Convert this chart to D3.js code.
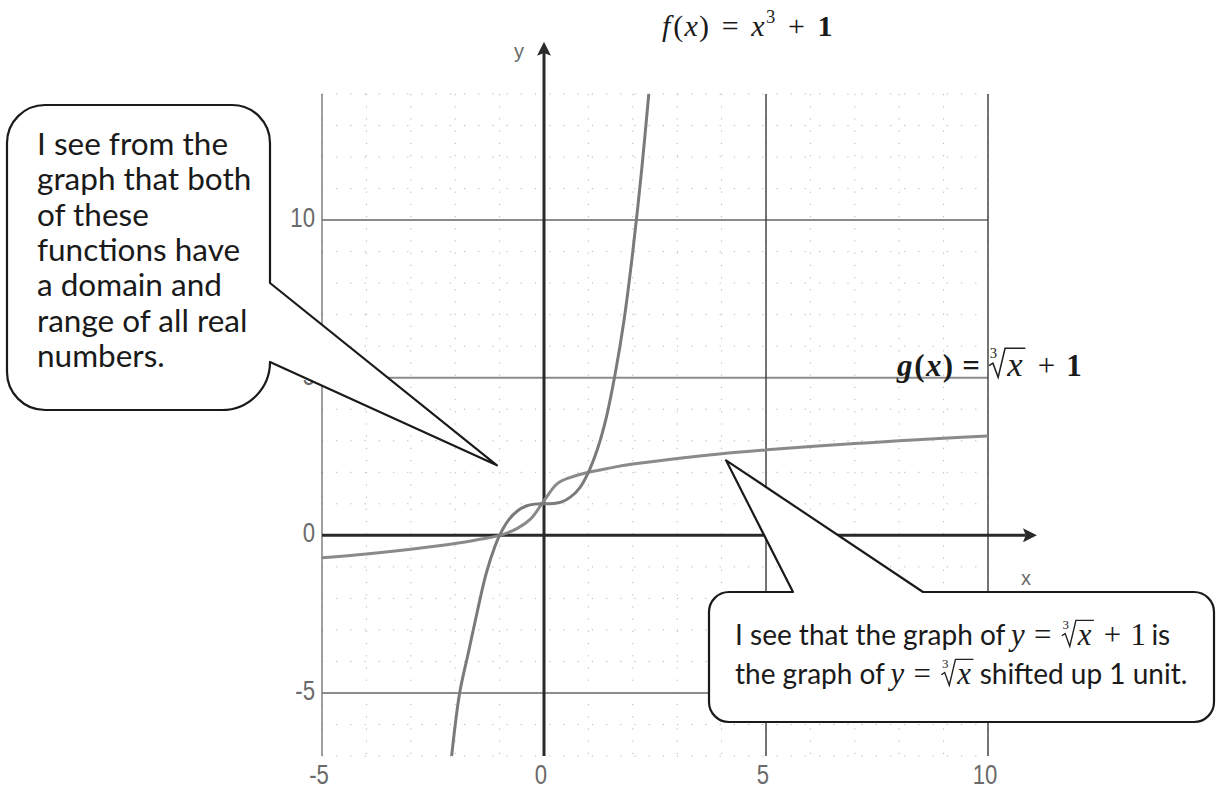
<!DOCTYPE html>
<html>
<head>
<meta charset="utf-8">
<style>
  body { margin: 0; background: #fff; }
  svg { display: block; }
  text { white-space: pre; }
</style>
</head>
<body>
<div id="container"></div>
<script src="https://cdn.jsdelivr.net/npm/d3@7"></script>
<script>

const width = 1217;
const height = 792;

// f(x) = x^3 + 1
const fX = [-2.08, -1.9, -1.7, -1.5, -1.3, -1.1, -1.0, -0.8, -0.6, -0.4, -0.2, 0, 0.2, 0.4, 0.6, 0.8, 1.0, 1.2, 1.4, 1.6, 1.8, 2.0, 2.2, 2.36];
const fY = [-7.0, -5.0, -3.7, -2.4, -1.2, -0.33, 0, 0.48, 0.77, 0.93, 0.99, 1.0, 1.01, 1.06, 1.22, 1.5, 2.0, 2.72, 3.72, 5.1, 6.8, 9.0, 11.6, 14.0];

// g(x) = cbrt(x) + 1
const gX = [-5, -4, -3, -2, -1.5, -1, -0.6, -0.3, 0, 0.3, 0.6, 1, 1.5, 2, 3, 4, 5, 6, 7, 8, 9, 10];
const gY = [-0.71, -0.59, -0.44, -0.26, -0.14, 0, 0.22, 0.52, 1.1, 1.64, 1.84, 2.0, 2.14, 2.26, 2.44, 2.59, 2.71, 2.82, 2.91, 3.0, 3.08, 3.15];

const xTicks = [-5, 0, 5, 10];
const yTicks = [-5, 0, 5, 10];
const xMajor = [-5, 5, 10];
const yMajor = [-5, 5, 10];
const xDomain = [-5, 10];
const yDomain = [-7, 14];
const xAxisEnd = 10.85;
const yAxisEnd = 15.3;

// callout tips (data coords)
const tip1 = [-1.06, 2.22];
const tip2 = [4.1, 2.38];

const sans = 'Lato, "Open Sans", sans-serif';
const serif = '"Liberation Serif", "DejaVu Serif", serif';

const x = d3.scaleLinear().domain(xDomain).range([322, 988]);
const y = d3.scaleLinear().domain(yDomain).range([756, 94]);

const svg = d3.create("svg")
    .attr("width", width)
    .attr("height", height)
    .style("background", "#fff");

// attach now so text can be measured
container.append(svg.node());

const defs = svg.append("defs");
defs.append("marker")
    .attr("id", "arrow")
    .attr("viewBox", "0 0 10 10")
    .attr("refX", 2).attr("refY", 5)
    .attr("markerWidth", 15).attr("markerHeight", 14)
    .attr("markerUnits", "userSpaceOnUse")
    .attr("orient", "auto")
  .append("path")
    .attr("d", "M0,0 L10,5 L0,10 L2,5 z")
    .attr("fill", "#2a2a2a");

// minor dotted grid
const grid = svg.append("g");
grid.selectAll(".vminor").data(x.ticks(15)).enter().append("line")
    .attr("x1", d => x(d)).attr("x2", d => x(d))
    .attr("y1", y(yDomain[1])).attr("y2", y(yDomain[0]))
    .attr("stroke", "#b4b4b4").attr("stroke-width", 1)
    .attr("stroke-dasharray", "1.2 11");
grid.selectAll(".hminor").data(y.ticks(21)).enter().append("line")
    .attr("x1", x(xDomain[0])).attr("x2", x(xDomain[1]))
    .attr("y1", d => y(d)).attr("y2", d => y(d))
    .attr("stroke", "#b4b4b4").attr("stroke-width", 1)
    .attr("stroke-dasharray", "1.2 13");

// major grid
grid.selectAll(".hmajor").data(yMajor).enter().append("line")
    .attr("x1", x(xDomain[0])).attr("x2", x(xDomain[1]))
    .attr("y1", d => y(d)).attr("y2", d => y(d))
    .attr("stroke", "#8c8c8c").attr("stroke-width", 2);
grid.selectAll(".vmajor").data(xMajor).enter().append("line")
    .attr("x1", d => x(d)).attr("x2", d => x(d))
    .attr("y1", y(yDomain[1])).attr("y2", y(yDomain[0]))
    .attr("stroke", d => d < 0 ? "#777" : "#3a3a3a").attr("stroke-width", 1.4);

// axes
svg.append("line")
    .attr("x1", x(xDomain[0])).attr("x2", x(xAxisEnd))
    .attr("y1", y(0)).attr("y2", y(0))
    .attr("stroke", "#2a2a2a").attr("stroke-width", 3)
    .attr("marker-end", "url(#arrow)");
svg.append("line")
    .attr("x1", x(0)).attr("x2", x(0))
    .attr("y1", y(yDomain[0])).attr("y2", y(yAxisEnd))
    .attr("stroke", "#2a2a2a").attr("stroke-width", 3)
    .attr("marker-end", "url(#arrow)");

// curves
const line = d3.line().x(d => x(d[0])).y(d => y(d[1])).curve(d3.curveCatmullRom.alpha(0.5));
svg.append("path")
    .attr("d", line(d3.zip(gX, gY)))
    .attr("fill", "none").attr("stroke", "#8a8a8a").attr("stroke-width", 3);
svg.append("path")
    .attr("d", line(d3.zip(fX, fY)))
    .attr("fill", "none").attr("stroke", "#7a7a7a").attr("stroke-width", 3);

// tick labels (scanned digits are tall and narrow)
const labels = svg.append("g")
    .attr("font-family", '"Liberation Sans", Arial, sans-serif')
    .attr("font-size", 27).attr("fill", "#6a6a6a");
labels.selectAll(".yl").data(yTicks).enter().append("text")
    .attr("x", 315).attr("y", d => y(d) + 7)
    .attr("text-anchor", "end")
    .text(d => d);
labels.selectAll(".xl").data(xTicks).enter().append("text")
    .attr("x", d => x(d) - 3).attr("y", 784)
    .attr("text-anchor", "middle")
    .text(d => d);
labels.selectAll("text").each(function() {
  const w = this.getComputedTextLength();
  d3.select(this).attr("textLength", w * 0.82).attr("lengthAdjust", "spacingAndGlyphs");
});
labels.append("text").attr("x", 519).attr("y", 58).attr("font-size", 20).attr("text-anchor", "middle").text("y");
labels.append("text").attr("x", 1026).attr("y", 585).attr("font-size", 20).attr("text-anchor", "middle").text("x");

// lay out a line of mixed text / math pieces
function layout(g, x0, base, size, parts) {
  let cx = x0;
  parts.forEach(p => {
    const s = size * (p.s || 1);
    if (p.gap !== undefined) { cx += p.gap * s; return; }
    if (p.root) {
      g.append("text").attr("x", cx + 0.06 * s).attr("y", base - 0.52 * s)
          .attr("font-family", serif).attr("font-size", 0.42 * s)
          .attr("font-weight", "normal").text("3");
      const t = g.append("text").attr("x", cx + 0.56 * s).attr("y", base)
          .attr("font-family", serif).attr("font-style", "italic")
          .attr("font-size", s).attr("font-weight", p.b ? "bold" : "normal").text(p.root);
      const w = t.node().getComputedTextLength();
      g.append("path")
          .attr("d", `M${cx + 0.04 * s},${base - 0.3 * s} L${cx + 0.15 * s},${base - 0.37 * s} L${cx + 0.3 * s},${base + 0.04 * s} L${cx + 0.5 * s},${base - 0.8 * s} H${cx + 0.56 * s + w + 0.08 * s}`)
          .attr("fill", "none").attr("stroke", "#222").attr("stroke-width", Math.max(1, s * 0.045));
      cx += 0.56 * s + w + 0.1 * s;
      return;
    }
    const fs = p.sup ? s * 0.62 : s;
    const t = g.append("text").attr("x", cx).attr("y", p.sup ? base - 0.45 * s : base)
        .attr("font-family", p.f || serif)
        .attr("font-style", p.i ? "italic" : "normal")
        .attr("font-weight", p.b ? "bold" : "normal")
        .attr("font-size", fs)
        .text(p.t);
    cx += t.node().getComputedTextLength();
  });
  return cx;
}

// function labels
const mathG = svg.append("g").attr("fill", "#1a1a1a");
layout(mathG, 662, 36, 30, [
  {t: "f", i: true}, {gap: 0.1}, {t: "("}, {gap: 0.04}, {t: "x", i: true}, {gap: 0.04}, {t: ")"}, {gap: 0.42},
  {t: "="}, {gap: 0.42}, {t: "x", i: true}, {gap: 0.05}, {t: "3", sup: true}, {gap: 0.42},
  {t: "+"}, {gap: 0.42}, {t: "1", b: true}
]);

// callouts
const c1 = {l: 7, t: 105, r: 270, b: 410, rad: 38, tailA: 283, tailB: 362};
const p1 = d3.path();
p1.moveTo(c1.l + c1.rad, c1.t);
p1.lineTo(c1.r - c1.rad, c1.t);
p1.arcTo(c1.r, c1.t, c1.r, c1.t + c1.rad, c1.rad);
p1.lineTo(c1.r, c1.tailA);
p1.lineTo(x(tip1[0]), y(tip1[1]));
p1.lineTo(c1.r, c1.tailB);
p1.arcTo(c1.r, c1.b, c1.r - (c1.b - c1.tailB), c1.b, c1.b - c1.tailB);
p1.lineTo(c1.l + c1.rad, c1.b);
p1.arcTo(c1.l, c1.b, c1.l, c1.b - c1.rad, c1.rad);
p1.lineTo(c1.l, c1.t + c1.rad);
p1.arcTo(c1.l, c1.t, c1.l + c1.rad, c1.t, c1.rad);
p1.closePath();
svg.append("path").attr("d", p1.toString())
    .attr("fill", "#fff").attr("stroke", "#1a1a1a").attr("stroke-width", 2.2)
    .attr("stroke-linejoin", "round");

const c2 = {l: 709, t: 592, r: 1214, b: 722, rad: 20, tailA: 793, tailB: 923};
const p2 = d3.path();
p2.moveTo(c2.l + c2.rad, c2.t);
p2.lineTo(c2.tailA, c2.t);
p2.lineTo(x(tip2[0]), y(tip2[1]));
p2.lineTo(c2.tailB, c2.t);
p2.lineTo(c2.r - c2.rad, c2.t);
p2.arcTo(c2.r, c2.t, c2.r, c2.t + c2.rad, c2.rad);
p2.lineTo(c2.r, c2.b - c2.rad);
p2.arcTo(c2.r, c2.b, c2.r - c2.rad, c2.b, c2.rad);
p2.lineTo(c2.l + c2.rad, c2.b);
p2.arcTo(c2.l, c2.b, c2.l, c2.b - c2.rad, c2.rad);
p2.lineTo(c2.l, c2.t + c2.rad);
p2.arcTo(c2.l, c2.t, c2.l + c2.rad, c2.t, c2.rad);
p2.closePath();
svg.append("path").attr("d", p2.toString())
    .attr("fill", "#fff").attr("stroke", "#1a1a1a").attr("stroke-width", 2.2)
    .attr("stroke-linejoin", "round");

// callout 1 text
const note1 = ["I see from the", "graph that both", "of these", "functions have", "a domain and", "range of all real", "numbers."];
svg.append("g").attr("font-family", sans).attr("font-size", 31.5).attr("fill", "#1a1a1a")
  .selectAll("text").data(note1).enter().append("text")
    .attr("x", 37).attr("y", (d, i) => 155 + i * 35.3)
    .text(d => d);

// callout 2 text
const n2 = svg.append("g").attr("fill", "#1a1a1a");
layout(n2, 735, 645, 28, [
  {t: "I see that the graph of", f: sans}, {gap: 0.2},
  {t: "y", i: true, s: 1.1}, {gap: 0.3, s: 1.1}, {t: "=", s: 1.1}, {gap: 0.3, s: 1.1},
  {root: "x", s: 1.1}, {gap: 0.3, s: 1.1},
  {t: "+", s: 1.1}, {gap: 0.3, s: 1.1}, {t: "1", s: 1.1}, {gap: 0.2}, {t: "is", f: sans}
]);
layout(n2, 735, 684, 28, [
  {t: "the graph of", f: sans}, {gap: 0.2},
  {t: "y", i: true, s: 1.1}, {gap: 0.3, s: 1.1}, {t: "=", s: 1.1}, {gap: 0.3, s: 1.1},
  {root: "x", s: 1.1}, {gap: 0.2},
  {t: "shifted up 1 unit.", f: sans}
]);

// g label (drawn after the callouts so it stays on top)
layout(mathG, 897, 376, 31, [
  {t: "g", i: true, b: true}, {gap: 0.06}, {t: "(", b: true}, {gap: 0.04}, {t: "x", i: true, b: true}, {gap: 0.04}, {t: ")", b: true}, {gap: 0.3},
  {t: "=", b: true}, {gap: 0.25}, {root: "x", s: 1.12}, {gap: 0.38},
  {t: "+"}, {gap: 0.35}, {t: "1", b: true}
]);

</script>
</body>
</html>
